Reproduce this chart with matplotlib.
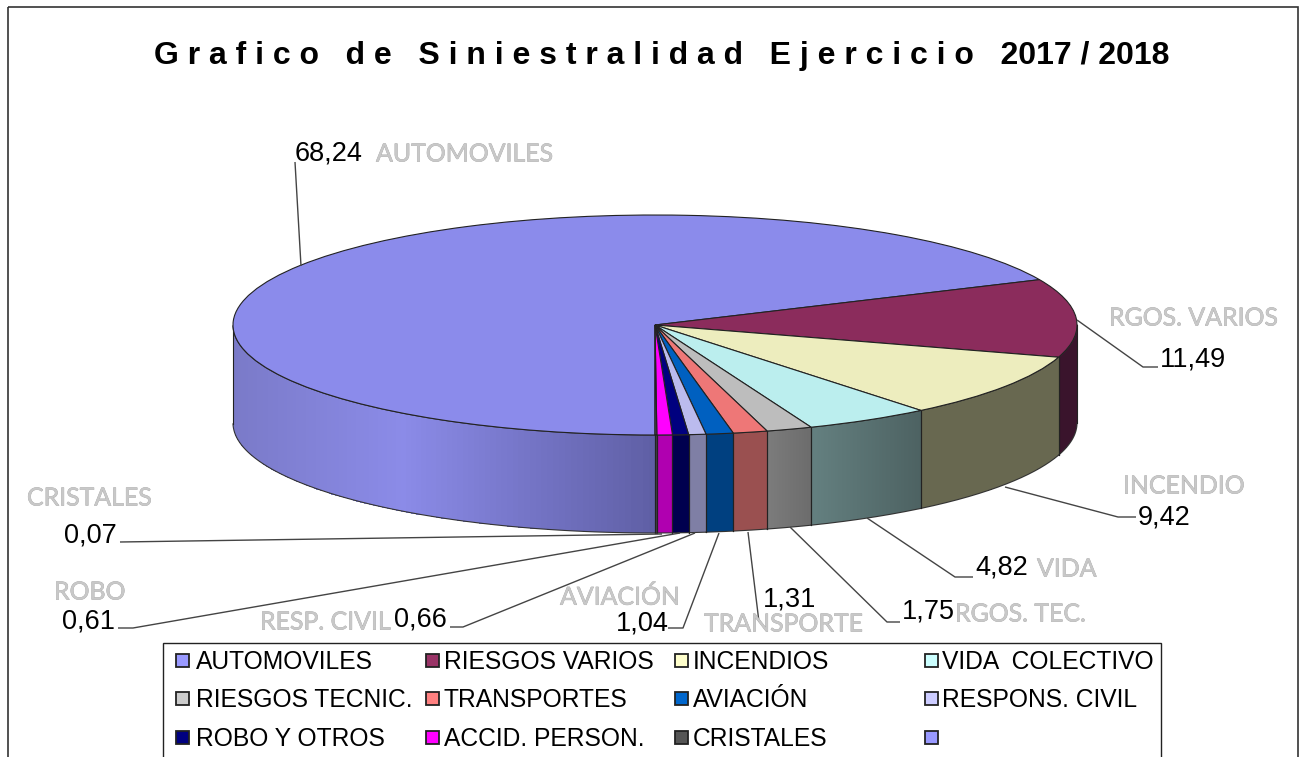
import numpy as np
import matplotlib
matplotlib.use("Agg")
import matplotlib.pyplot as plt
import matplotlib.patheffects as pe
from matplotlib.colors import LinearSegmentedColormap
from matplotlib.patches import Rectangle

# ---- data ----
legend_labels = ["AUTOMOVILES", "RIESGOS VARIOS", "INCENDIOS", "VIDA  COLECTIVO",
                 "RIESGOS TECNIC.", "TRANSPORTES", "AVIACIÓN", "RESPONS. CIVIL",
                 "ROBO Y OTROS", "ACCID. PERSON.", "CRISTALES", ""]
slice_names = ["AUTOMOVILES", "RGOS. VARIOS", "INCENDIO", "VIDA", "RGOS. TEC.", "TRANSPORTE",
               "AVIACIÓN", "RESP. CIVIL", "ROBO", "ACCID", "CRISTALES"]
values = [68.24, 11.49, 9.42, 4.82, 1.75, 1.31, 1.04, 0.66, 0.61, 0.59, 0.07]
value_labels = ["68,24", "11,49", "9,42", "4,82", "1,75", "1,31", "1,04", "0,66", "0,61", "", "0,07"]
title = "G r a f i c o   d e   S i n i e s t r a l i d a d   E j e r c i c i o   2017 / 2018"

# ---- style ----
top_colors = ["#8b8beb", "#8b2c5c", "#ededbe", "#bbeeee", "#bdbdbd", "#ee7777",
              "#0060c0", "#bbbbee", "#00007f", "#ff00ff", "#555555"]
wall_stops = [[(0, "#7a7ac8"), (0.4, "#8b8be8"), (1, "#5f5fa5")],
              [(0, "#3a142c"), (1, "#3a142c")],
              [(0, "#686850"), (1, "#686850")],
              [(0, "#648080"), (1, "#4d6262")],
              [(0, "#7c7c7c"), (1, "#6c6c6c")],
              [(0, "#9a5050"), (1, "#9a5050")],
              [(0, "#004080"), (1, "#004080")],
              [(0, "#7f7fa5"), (1, "#7f7fa5")],
              [(0, "#00004f"), (1, "#00004f")],
              [(0, "#b000b0"), (1, "#b000b0")],
              [(0, "#444444"), (1, "#444444")]]
legend_colors = ["#9999ff", "#993366", "#ffffcc", "#ccffff", "#cccccc", "#ff8080",
                 "#0066cc", "#ccccff", "#000080", "#ff00ff", "#555555", "#9999ff"]

W, H = 1306, 757
CX, CY, RX, RY, DEPTH = 655, 325, 422, 110, 98
START = 270.0

value_pos = [(295, 154), (1160, 360), (1138, 518), (975, 568), (902, 612), (763, 600),
             (616, 623), (394, 620), (62, 621), None, (64, 536)]
name_pos = [(376, 154), (1109, 318), (1123, 486), (1037, 569), (955, 614), (704, 624),
            (560, 597), (260, 622), (54, 592), None, (27, 498)]
leaders = [[(295, 162), (301, 266)],
           [(1077, 320), (1143, 367), (1158, 367)],
           [(1005, 487), (1118, 517), (1136, 517)],
           [(867, 518), (955, 577), (973, 577)],
           [(790, 527), (887, 622), (900, 622)],
           [(748, 532), (759, 622)],
           [(719, 533), (683, 628), (668, 628)],
           [(695, 533), (463, 627), (450, 627)],
           [(680, 533), (133, 628), (118, 628)],
           None,
           [(662, 534), (120, 542)]]

VAL_FONT = "Liberation Sans"
NAME_FONT = "Lato"

fig = plt.figure(figsize=(W / 100, H / 100), dpi=100, facecolor="white")

# ---- pie axes: unit circle squashed to an ellipse ----
ax = fig.add_axes([0, 0, 1, 1])
wedges, _ = ax.pie(values, colors=top_colors, startangle=START, counterclock=False,
                   wedgeprops=dict(edgecolor="#222222", linewidth=0.8))
ax.set_aspect("auto")
ax.set_xlim(-CX / RX, (W - CX) / RX)
ax.set_ylim((CY - H) / RY, CY / RY)
d = DEPTH / RY

for w, stops in zip(wedges, wall_stops):
    t = np.linspace(w.theta1, w.theta2, 300)
    t = t[np.sin(np.radians(t)) <= 1e-9]
    if t.size < 2:
        continue
    x = np.cos(np.radians(t))
    y = np.sin(np.radians(t))
    X = np.vstack([x, x])
    Y = np.vstack([y, y - d])
    span = x.max() - x.min()
    C = ((x[:-1] + x[1:]) / 2 - x.min()) / (span if span else 1)
    cmap = LinearSegmentedColormap.from_list("w", stops)
    ax.pcolormesh(X, Y, C[None, :], cmap=cmap, vmin=0, vmax=1, shading="flat", zorder=0.5)
    ax.plot(x, y - d, color="#333333", lw=0.8, zorder=0.6)
    ax.plot(x, y, color="#333333", lw=0.8, zorder=0.6)
    for i in (0, -1):
        ax.plot([x[i], x[i]], [y[i], y[i] - d], color="#222222", lw=0.8, zorder=0.6)

# ---- overlay axes in picture pixels ----
ov = fig.add_axes([0, 0, 1, 1], facecolor="none")
ov.set_xlim(0, W)
ov.set_ylim(H, 0)
ov.axis("off")

ov.add_patch(Rectangle((8, 7), 1290, H + 20, fill=False, ec="#333333", lw=1.2))
ov.text(662, 56, title, family="Liberation Sans", weight="bold", fontsize=23,
        ha="center", va="center", color="black")

for pts in leaders:
    if pts:
        ov.plot(*zip(*pts), color="#444444", lw=1.0, solid_capstyle="butt")

for s, p in zip(value_labels, value_pos):
    if p:
        ov.text(p[0], p[1], s, family=VAL_FONT, fontsize=19.5, ha="left", va="center", color="black")

shadow = [pe.Stroke(linewidth=0.4, foreground="#a0a0a0"), pe.Normal()]
for s, p in zip(slice_names, name_pos):
    if p:
        ov.text(p[0], p[1], s, family=NAME_FONT, fontsize=17.9, ha="left", va="center",
                color="#c8c8c8", path_effects=shadow)

# ---- legend ----
ov.add_patch(Rectangle((163, 643), 998, H, fc="white", ec="#222222", lw=1.0, zorder=3))
col_x = [176, 426, 675, 925]
text_x = [196, 444, 693, 942]
row_y = [660, 698, 737]
for k, (lab, c) in enumerate(zip(legend_labels, legend_colors)):
    yy = row_y[k // 4]
    ov.add_patch(Rectangle((col_x[k % 4], yy - 6.5), 13, 13, fc=c, ec="#222222", lw=1.3, zorder=4))
    ov.text(text_x[k % 4], yy + 2, lab, family=VAL_FONT, fontsize=17.7, ha="left", va="center",
            color="black", zorder=4)

fig.savefig("out.png", dpi=100)
